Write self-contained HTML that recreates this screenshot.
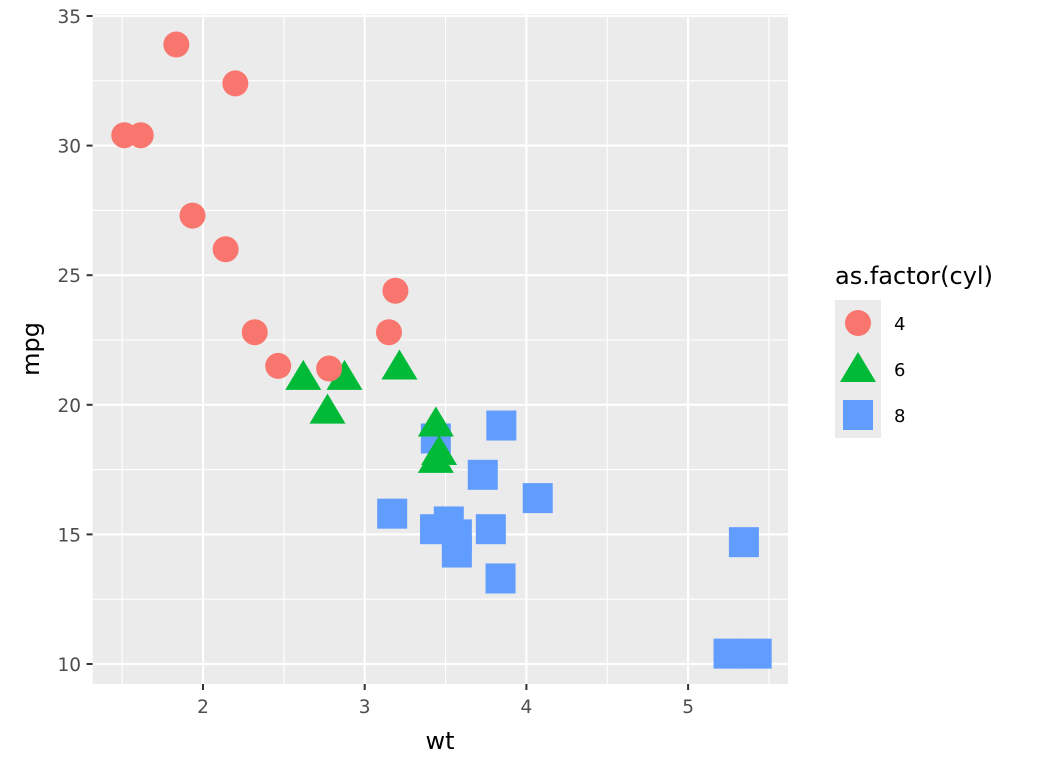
<!DOCTYPE html>
<html><head><meta charset="utf-8"><style>
body{margin:0;background:#fff;font-family:"Liberation Sans","DejaVu Sans",sans-serif}
</style></head><body>
<svg id="chart" width="1056" height="768" xmlns="http://www.w3.org/2000/svg" font-family="DejaVu Sans, Liberation Sans, sans-serif">
<rect x="92.6" y="14" width="695.4" height="670" fill="#ebebeb"/>
<g id="grid"></g><g id="ticks"></g><g id="points"></g>
<text x="440" y="749" font-size="24" text-anchor="middle">wt</text>
<text transform="translate(39,349) rotate(-90)" font-size="24" text-anchor="middle">mpg</text>
<g>
<text x="835" y="284" font-size="24">as.factor(cyl)</text>
<rect x="835" y="300" width="46" height="138" fill="#ebebeb"/>
<circle cx="858" cy="323" r="13" fill="#F8766D"/>
<polygon points="858,352 876,382 840,382" fill="#00BA38"/>
<rect x="843" y="400" width="30" height="30" fill="#619CFF"/>
<text x="894" y="330" font-size="18">4</text>
<text x="894" y="376" font-size="18">6</text>
<text x="894" y="422" font-size="18">8</text>
</g>
</svg>
<script>
const wt=[2.620,2.875,2.320,3.215,3.440,3.460,3.570,3.190,3.150,3.440,3.440,4.070,3.730,3.780,5.250,5.424,5.345,2.200,1.615,1.835,2.465,3.520,3.435,3.840,3.845,1.935,2.140,1.513,3.170,2.770,3.570,2.780];
const mpg=[21.0,21.0,22.8,21.4,18.7,18.1,14.3,24.4,22.8,19.2,17.8,16.4,17.3,15.2,10.4,10.4,14.7,32.4,30.4,33.9,21.5,15.5,15.2,13.3,19.2,27.3,26.0,30.4,15.8,19.7,15.0,21.4];
const cyl=[6,6,4,6,8,6,8,4,4,6,6,8,8,8,8,8,8,4,4,4,4,8,8,8,8,4,4,4,8,6,8,4];
const xTicks=[2,3,4,5];
const yTicks=[10,15,20,25,30,35];
const xMinor=[1.5,2.5,3.5,4.5,5.5];
const yMinor=[12.5,17.5,22.5,27.5,32.5];
const X=v=>203+(v-2)*161.7;
const Y=v=>664-(v-10)*25.92;
const NS="http://www.w3.org/2000/svg";
function mk(tag,attrs,parent){const e=document.createElementNS(NS,tag);for(const k in attrs)e.setAttribute(k,attrs[k]);document.getElementById(parent).appendChild(e);return e;}
xMinor.forEach(v=>{const l=mk('line',{x1:X(v),x2:X(v),y1:14,y2:684,stroke:'#fff','stroke-width':1.1},'grid');

});
yMinor.forEach(v=>{const l=mk('line',{x1:92.6,x2:788,y1:Y(v),y2:Y(v),stroke:'#fff','stroke-width':1.1},'grid');

});
xTicks.forEach(v=>{const l=mk('line',{x1:X(v),x2:X(v),y1:14,y2:684,stroke:'#fff','stroke-width':2.2},'grid');


const t=mk('line',{x1:X(v),x2:X(v),y1:684,y2:690,stroke:'#333','stroke-width':2},'ticks');


const tx=mk('text',{x:X(v),y:713,'font-size':18.5,fill:'#4d4d4d','text-anchor':'middle'},'ticks');tx.textContent=v;

});
yTicks.forEach(v=>{const l=mk('line',{x1:92.6,x2:788,y1:Y(v),y2:Y(v),stroke:'#fff','stroke-width':2.2},'grid');


const t=mk('line',{x1:86.6,x2:92.6,y1:Y(v),y2:Y(v),stroke:'#333','stroke-width':2},'ticks');


const tx=mk('text',{x:81,y:Y(v)+7,'font-size':18.5,fill:'#4d4d4d','text-anchor':'end'},'ticks');tx.textContent=v;

});
wt.forEach((w,i)=>{const x=X(w),y=Y(mpg[i]);let e;
if(cyl[i]===4)e=mk('circle',{cx:x,cy:y,r:13,fill:'#F8766D'},'points');
else if(cyl[i]===6)e=mk('polygon',{points:`${x},${y-19} ${x+18},${y+11} ${x-18},${y+11}`,fill:'#00BA38'},'points');
else e=mk('rect',{x:x-15,y:y-15,width:30,height:30,fill:'#619CFF'},'points');

});
</script>
</body></html>
